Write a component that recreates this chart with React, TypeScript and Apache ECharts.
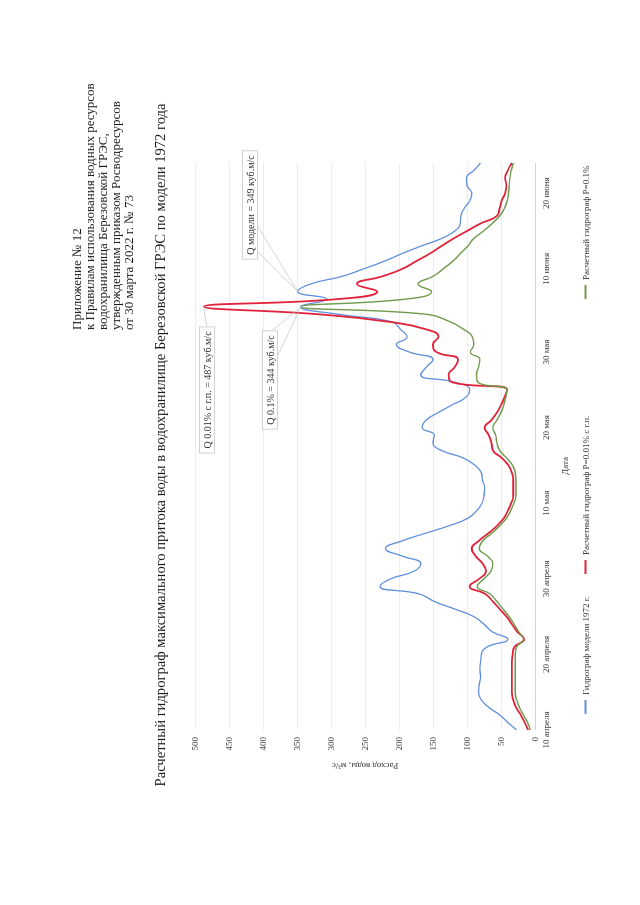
import React, { useEffect, useRef } from "react";
import * as echarts from "echarts";

// ---- categories (daily dates) ----
const monthSpans = [
  { month: "апреля", from: 10, to: 30 },
  { month: "мая", from: 1, to: 31 },
  { month: "июня", from: 1, to: 24 },
];
const categories: string[] = [];
for (const m of monthSpans) {
  for (let d = m.from; d <= m.to; d++) categories.push(`${d} ${m.month}`);
}
const tickLabels = [
  "10 апреля", "20 апреля", "30 апреля", "10 мая",
  "20 мая", "30 мая", "10 июня", "20 июня",
];

// ---- series values, m3/s (one per day from 10 April) ----
const blueModel1972 = [
  27, 40, 52, 68, 79, 83, 82, 80, 81, 80,
  79, 70, 40, 63, 75, 90, 118, 148, 170, 228,
  212, 178, 168, 195, 220, 196, 162, 127, 99, 86,
  78, 75, 74, 77, 79, 88, 106, 138, 150, 148,
  166, 160, 142, 122, 102, 96, 118, 168, 160, 150,
  185, 204, 188, 198, 210, 290, 345, 306, 349, 330,
  284, 252, 222, 196, 168, 138, 118, 110, 109, 104,
  96, 93, 100, 101, 90, 80,
];
const redP001 = [
  10, 15, 21, 28, 32, 34, 34, 34, 34, 34,
  33, 30, 16, 26, 34, 42, 52, 62, 73, 96,
  82, 72, 77, 87, 93, 83, 69, 56, 46, 40,
  35, 32, 32, 32, 34, 39, 49, 62, 64, 68,
  74, 64, 56, 50, 45, 41, 122, 127, 118, 113,
  145, 150, 142, 160, 215, 320, 487, 290, 232, 262,
  225, 195, 175, 155, 138, 120, 100, 80, 56, 52,
  49, 44, 42, 44, 40, 34,
];
const greenP01 = [
  7, 11, 17, 23, 27, 29, 29, 29, 29, 29,
  29, 27, 17, 24, 31, 38, 47, 56, 66, 85,
  75, 65, 62, 70, 82, 77, 64, 52, 42, 36,
  31, 28, 28, 28, 29, 33, 42, 52, 56, 58,
  62, 56, 50, 46, 43, 41, 84, 86, 83, 81,
  95, 90, 92, 105, 125, 160, 344, 190, 152, 172,
  150, 135, 121, 110, 99, 90, 76, 63, 52, 45,
  41, 39, 38, 37, 35, 32,
];
const seriesNames = [
  "Гидрограф модели 1972 г.",
  "Расчетный гидрограф P=0.01% с г.п.",
  "Расчетный гидрограф P=0.1%",
];

const headerLines = [
  "Приложение № 12",
  "к Правилам использования водных ресурсов",
  "водохранилища Березовской ГРЭС,",
  "утвержденным приказом Росводресурсов",
  "от 30 марта 2022 г. № 73",
];
const titleText =
  "Расчетный гидрограф максимального притока воды в водохранилище Березовской ГРЭС по модели 1972 года";

// callouts: text, series index, data index
const calloutTexts = [
  "Q 0.01% с г.п. = 487 куб.м/с",
  "Q 0.1% = 344 куб.м/с",
  "Q модели = 349 куб.м/с",
];
const calloutSeries = [1, 2, 0];
const calloutIndex = [56, 56, 58];

export default function App() {
  const ref = useRef<HTMLDivElement>(null);

  useEffect(() => {
    document.body.style.margin = "0";
    document.body.style.overflow = "hidden";
    document.body.style.background = "#ffffff";
    const el = ref.current!;
    const chart = echarts.init(el, null, { renderer: "svg" });
    const FONT = '"Liberation Serif", "Times New Roman", serif';
    const colors = ["#6090dc", "#e2223a", "#6f9a4c"];
    const widths = [1.3, 1.8, 1.4];
    const data = [blueModel1972, redP001, greenP01];
    const legendLeft = [186, 326, 601];

    chart.setOption({
      animation: false,
      backgroundColor: "#ffffff",
      textStyle: { fontFamily: FONT },
      grid: { left: 175, right: 163, top: 195, bottom: 105 },
      legend: seriesNames.map((name, k) => ({
        data: [name],
        left: legendLeft[k],
        top: 576,
        icon: "rect",
        itemWidth: 14,
        itemHeight: 2,
        textStyle: { fontSize: 9, color: "#333333", fontFamily: FONT },
      })),
      xAxis: {
        type: "category",
        data: categories,
        boundaryGap: false,
        axisLine: { lineStyle: { color: "#d4d4d4", width: 1 } },
        axisTick: { show: false },
        splitLine: { show: false },
        axisLabel: {
          interval: (_i: number, v: string) => tickLabels.includes(v),
          fontSize: 9,
          color: "#3a3a3a",
          fontFamily: FONT,
          margin: 6,
        },
      },
      yAxis: {
        type: "value",
        min: 0,
        max: 500,
        interval: 50,
        axisLine: { show: false },
        axisTick: { show: false },
        splitLine: { lineStyle: { color: "#ededed", width: 1 } },
        axisLabel: { fontSize: 9, color: "#3a3a3a", fontFamily: FONT, margin: 7 },
        name: "Расход воды, м³/с",
        nameLocation: "middle",
        nameGap: 31,
        nameTextStyle: { fontSize: 9, color: "#3a3a3a", fontFamily: FONT },
      },
      series: seriesNames.map((name, k) => ({
        name,
        type: "line",
        data: data[k],
        smooth: true,
        symbol: "none",
        showSymbol: false,
        lineStyle: { color: colors[k], width: widths[k] },
        itemStyle: { color: colors[k] },
        z: 2 + k,
      })),
    });

    const graphics: any[] = [];
    headerLines.forEach((t, i) => {
      graphics.push({
        type: "text",
        x: 575,
        y: 76 + i * 13.2,
        z: 50,
        style: {
          text: t,
          font: `13px ${FONT}`,
          fill: "#1c1c1c",
          align: "left",
          verticalAlign: "middle",
        },
      });
    });
    graphics.push({
      type: "text",
      x: 460,
      y: 160,
      z: 50,
      style: {
        text: titleText,
        font: `14.6px ${FONT}`,
        fill: "#1c1c1c",
        align: "center",
        verticalAlign: "middle",
      },
    });
    graphics.push({
      type: "text",
      x: 439,
      y: 565,
      z: 50,
      style: {
        text: "Дата",
        font: `9px ${FONT}`,
        fill: "#3a3a3a",
        align: "center",
        verticalAlign: "middle",
      },
    });

    // callout boxes (layout) and leader lines to data points
    const boxCenters = [
      [515, 207],
      [525, 270],
      [700, 250],
    ];
    const leaderStarts = [
      [[576, 207]],
      [[569, 266], [548, 277]],
      [[680, 257], [654, 257]],
    ];
    calloutTexts.forEach((t, c) => {
      const s = calloutSeries[c];
      const idx = calloutIndex[c];
      const p = chart.convertToPixel({ seriesIndex: s }, [idx, data[s][idx]]) as number[];
      leaderStarts[c].forEach(([x1, y1]) => {
        graphics.push({
          type: "line",
          z: 60,
          shape: { x1, y1, x2: p[0], y2: p[1] },
          style: { stroke: "#c9c9c9", lineWidth: 0.8 },
        });
      });
      graphics.push({
        type: "text",
        x: boxCenters[c][0],
        y: boxCenters[c][1],
        z: 70,
        style: {
          text: t,
          font: `10px ${FONT}`,
          fill: "#333333",
          align: "center",
          verticalAlign: "middle",
          backgroundColor: "#ffffff",
          borderColor: "#d2d2d2",
          borderWidth: 1,
          padding: [2, 4],
        },
      });
    });

    chart.setOption({ graphic: graphics });

    return () => {
      chart.dispose();
    };
  }, []);

  return (
    <div
      ref={ref}
      style={{
        position: "fixed",
        left: 0,
        top: 0,
        width: 905,
        height: 640,
        transformOrigin: "0 0",
        transform: "translateY(905px) rotate(-90deg)",
        background: "#ffffff",
      }}
    />
  );
}
